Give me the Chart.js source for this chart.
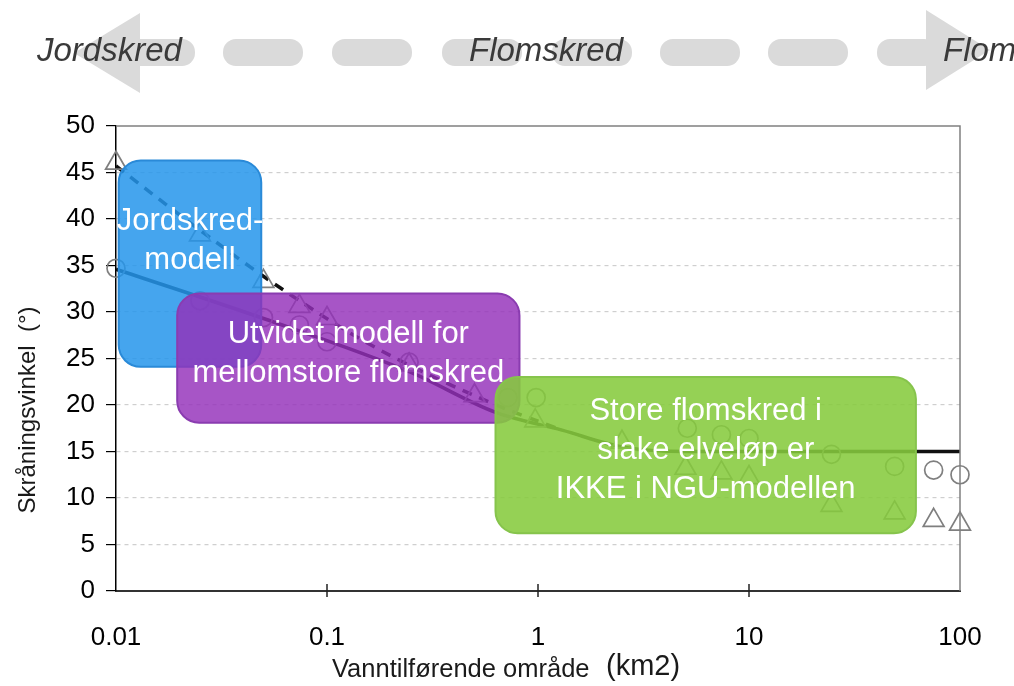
<!DOCTYPE html>
<html lang="no">
<head>
<meta charset="utf-8">
<title>Skråningsvinkel mot vanntilførende område</title>
<script src="https://cdn.jsdelivr.net/npm/chart.js@4.4.1/dist/chart.umd.min.js"></script>
<style>
  html, body { margin: 0; padding: 0; background: #fff; }
  #wrap { position: relative; width: 1014px; height: 686px; }
</style>
</head>
<body>
<div id="wrap"><canvas id="skredChart"></canvas></div>
<script>
// verdier lest av figuren
const xTickVerdier = [0.01, 0.1, 1, 10, 100];
const xTickTekster = ["0.01", "0.1", "1", "10", "100"];

const sirkelX = [0.01, 0.025, 0.05, 0.074, 0.1, 0.245, 0.72, 0.98, 5.1, 7.4, 10, 24.6, 49, 75, 100];
const sirkelY = [34.7, 31.2, 29.4, 28.6, 26.8, 24.6, 20.8, 20.8, 17.5, 16.8, 16.4, 14.7, 13.4, 13.0, 12.5];

const trekantX = [0.01, 0.025, 0.05, 0.074, 0.1, 0.245, 0.5, 0.97, 2.5, 5, 7.4, 10, 24.6, 49, 75, 100];
const trekantY = [46.0, 38.3, 33.3, 30.6, 29.3, 24.3, 21.0, 18.3, 16.0, 13.2, 12.7, 12.2, 9.2, 8.4, 7.6, 7.2];

const heltrukketX = [0.01, 0.05, 0.25, 0.63, 1.3, 2.5, 5, 100];
const heltrukketY = [34.6, 29.3, 23.5, 19.2, 17.3, 15.5, 15.0, 15.0];

const stipletX = [0.01, 0.025, 0.06, 0.16, 0.59, 1.3];
const stipletY = [45.7, 38.8, 32.6, 26.5, 20.3, 17.3];

// modellsoner (i dataenheter)
const soner = [
  { tekst: ["Jordskred-", "modell"], x: [0.0103, 0.0488], y: [24.1, 46.3], tekstY: 37.6,
    farge: "rgba(36,149,235,0.85)", kant: "#2a8ad8" },
  { tekst: ["Utvidet modell for", "mellomstore flomskred"], x: [0.0195, 0.817], y: [18.1, 32.0], tekstY: 25.5,
    farge: "rgba(148,48,186,0.82)", kant: "#8a3cb0" },
  { tekst: ["Store flomskred i", "slake elveløp er", "IKKE i NGU-modellen"], x: [0.629, 61.8], y: [6.2, 23.0], tekstY: 15.1,
    farge: "rgba(134,203,61,0.88)", kant: "#86c44c" }
];

const FONT = '"Liberation Sans", Arial, sans-serif';

function punkter(xs, ys) {
  return xs.map((x, i) => ({ x: x, y: ys[i] }));
}

function tegnBanner(ctx) {
  ctx.save();
  ctx.fillStyle = "#dadada";
  ctx.beginPath();
  ctx.moveTo(140, 13); ctx.lineTo(140, 93); ctx.lineTo(74, 53); ctx.closePath();
  ctx.fill();
  ctx.beginPath(); ctx.roundRect(120, 39, 75, 27, 13); ctx.fill();
  [223, 332, 442, 552, 660, 768].forEach(x => {
    ctx.beginPath(); ctx.roundRect(x, 39, 80, 27, 13); ctx.fill();
  });
  ctx.beginPath(); ctx.roundRect(877, 39, 60, 27, 13); ctx.fill();
  ctx.beginPath();
  ctx.moveTo(926, 10); ctx.lineTo(926, 90); ctx.lineTo(990, 50); ctx.closePath();
  ctx.fill();

  ctx.fillStyle = "#3a3a3a";
  ctx.font = "italic 33px " + FONT;
  ctx.textBaseline = "alphabetic";
  ctx.textAlign = "left";
  ctx.fillText("Jordskred", 37, 61);
  ctx.textAlign = "center";
  ctx.fillText("Flomskred", 546, 61);
  ctx.textAlign = "left";
  ctx.fillText("Flom", 943, 61);
  ctx.restore();
}

const tegnePlugin = {
  id: "tegning",
  beforeDraw(chart) {
    tegnBanner(chart.ctx);
  },
  afterDatasetsDraw(chart) {
    const ctx = chart.ctx;
    const xs = chart.scales.x, ys = chart.scales.y;
    ctx.save();
    soner.forEach(s => {
      const x0 = xs.getPixelForValue(s.x[0]), x1 = xs.getPixelForValue(s.x[1]);
      const y0 = ys.getPixelForValue(s.y[1]), y1 = ys.getPixelForValue(s.y[0]);
      ctx.beginPath();
      ctx.roundRect(x0, y0, x1 - x0, y1 - y0, 22);
      ctx.fillStyle = s.farge;
      ctx.fill();
      ctx.lineWidth = 2;
      ctx.strokeStyle = s.kant;
      ctx.stroke();
    });
    ctx.fillStyle = "#ffffff";
    ctx.font = "31px " + FONT;
    ctx.textAlign = "center";
    ctx.textBaseline = "middle";
    soner.forEach(s => {
      const cx = (xs.getPixelForValue(s.x[0]) + xs.getPixelForValue(s.x[1])) / 2;
      const cy = ys.getPixelForValue(s.tekstY);
      const lh = 39;
      const start = cy - (s.tekst.length - 1) * lh / 2;
      s.tekst.forEach((t, i) => ctx.fillText(t, cx, start + i * lh));
    });
    ctx.restore();
  },
  afterDraw(chart) {
    const ctx = chart.ctx;
    const a = chart.chartArea;
    const xs = chart.scales.x;
    ctx.save();
    // ramme topp og høyre
    ctx.strokeStyle = "#808080";
    ctx.lineWidth = 1.5;
    ctx.beginPath();
    ctx.moveTo(a.left, a.top); ctx.lineTo(a.right, a.top); ctx.lineTo(a.right, a.bottom);
    ctx.stroke();
    // små tikk på x-aksen
    ctx.strokeStyle = "#222";
    ctx.lineWidth = 1.5;
    xTickVerdier.slice(1, -1).forEach(v => {
      const px = xs.getPixelForValue(v);
      ctx.beginPath(); ctx.moveTo(px, a.bottom - 7); ctx.lineTo(px, a.bottom + 6); ctx.stroke();
    });
    // aksetitler
    ctx.fillStyle = "#1a1a1a";
    ctx.textBaseline = "middle";
    ctx.textAlign = "left";
    ctx.font = "25.5px " + FONT;
    ctx.fillText("Vanntilførende område", 332, 670);
    ctx.font = "29px " + FONT;
    ctx.fillText("(km2)", 606, 667);
    ctx.translate(28, 410);
    ctx.rotate(-Math.PI / 2);
    ctx.textAlign = "center";
    ctx.font = "24px " + FONT;
    ctx.fillText("Skråningsvinkel  (°)", 0, 0);
    ctx.restore();
  }
};

const ctx = document.getElementById("skredChart").getContext("2d");
new Chart(ctx, {
  type: "scatter",
  data: {
    datasets: [
      {
        label: "Sirkler",
        data: punkter(sirkelX, sirkelY),
        pointStyle: "circle",
        pointRadius: 9,
        pointBorderColor: "#7f7f7f",
        pointBackgroundColor: "rgba(0,0,0,0)",
        pointBorderWidth: 1.7,
        showLine: false,
        clip: false
      },
      {
        label: "Trekanter",
        data: punkter(trekantX, trekantY),
        pointStyle: "triangle",
        pointRadius: 12,
        pointBorderColor: "#7f7f7f",
        pointBackgroundColor: "rgba(0,0,0,0)",
        pointBorderWidth: 1.7,
        showLine: false,
        clip: false
      },
      {
        label: "Heltrukket",
        data: punkter(heltrukketX, heltrukketY),
        showLine: true,
        borderColor: "#111111",
        borderWidth: 3.5,
        pointRadius: 0,
        cubicInterpolationMode: "monotone",
        clip: false
      },
      {
        label: "Stiplet",
        data: punkter(stipletX, stipletY),
        showLine: true,
        borderColor: "#111111",
        borderWidth: 3.5,
        borderDash: [10, 8],
        pointRadius: 0,
        cubicInterpolationMode: "monotone",
        clip: false
      }
    ]
  },
  options: {
    responsive: true,
    maintainAspectRatio: false,
    animation: false,
    events: [],
    layout: { padding: { top: 126, right: 54, left: 0, bottom: 0 } },
    plugins: {
      legend: { display: false },
      tooltip: { enabled: false }
    },
    scales: {
      x: {
        type: "logarithmic",
        min: 0.01,
        max: 100,
        afterBuildTicks: s => { s.ticks = xTickVerdier.map(v => ({ value: v })); },
        afterFit: s => { s.height = 95; },
        grid: { display: false, drawTicks: false },
        border: { display: true, color: "#333", width: 2 },
        ticks: {
          autoSkip: false,
          maxRotation: 0,
          padding: 31,
          color: "#000",
          font: { family: FONT, size: 26 },
          callback: v => {
            const i = xTickVerdier.indexOf(v);
            return i >= 0 ? xTickTekster[i] : "";
          }
        }
      },
      y: {
        min: 0,
        max: 50,
        afterFit: s => { s.width = 116; },
        grid: {
          color: c => (c.tick && c.tick.value > 0 && c.tick.value < 50) ? "#cfcfcf" : "rgba(0,0,0,0)",
          tickColor: "#000",
          tickLength: 10,
          tickBorderDash: [],
          lineWidth: 1.2
        },
        border: { display: true, color: "#000", width: 1.5, dash: [4, 4] },
        ticks: {
          stepSize: 5,
          padding: 11,
          color: "#000",
          font: { family: FONT, size: 26 }
        }
      }
    }
  },
  plugins: [tegnePlugin]
});
</script>
</body>
</html>
